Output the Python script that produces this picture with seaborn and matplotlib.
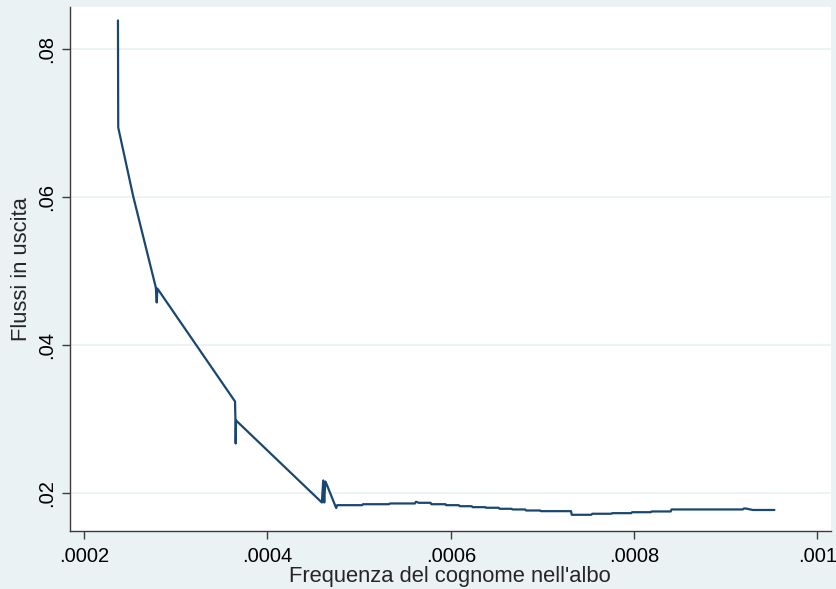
import matplotlib
matplotlib.use("Agg")
import matplotlib.pyplot as plt
import seaborn as sns
import pandas as pd

# Data
freq = [0.0002370, 0.0002373, 0.0002536, 0.0002645, 0.0002783, 0.0002793, 0.0002800,
        0.0003647, 0.0003652, 0.0003654, 0.0003658,
        0.0004594, 0.0004609, 0.0004620, 0.0004631, 0.0004647, 0.0004750, 0.0004761,
        0.0005033, 0.0005043, 0.0005326, 0.0005337, 0.0005609, 0.0005620, 0.0005652,
        0.0005780, 0.0005788, 0.0005943, 0.0005951, 0.0006087, 0.0006098, 0.0006228,
        0.0006239, 0.0006377, 0.0006386, 0.0006522, 0.0006533, 0.0006663, 0.0006674,
        0.0006812, 0.0006821, 0.0006975, 0.0006984, 0.0007312, 0.0007319, 0.0007533,
        0.0007543, 0.0007750, 0.0007761, 0.0007967, 0.0007978, 0.0008182, 0.0008190,
        0.0008399, 0.0008408, 0.0009185, 0.0009196, 0.0009217, 0.0009294, 0.0009530]
flussi = [0.08392, 0.06946, 0.06018, 0.05473, 0.04784, 0.04581, 0.04770,
          0.03243, 0.02960, 0.02676, 0.02987,
          0.01878, 0.02176, 0.01878, 0.02162, 0.02122, 0.01804, 0.01842,
          0.01842, 0.01855, 0.01855, 0.01865, 0.01865, 0.01888, 0.01874,
          0.01874, 0.01855, 0.01855, 0.01842, 0.01842, 0.01828, 0.01828,
          0.01815, 0.01815, 0.01807, 0.01807, 0.01793, 0.01793, 0.01784,
          0.01784, 0.01770, 0.01770, 0.01761, 0.01761, 0.01712, 0.01712,
          0.01726, 0.01726, 0.01734, 0.01734, 0.01747, 0.01747, 0.01757,
          0.01757, 0.01784, 0.01784, 0.01797, 0.01797, 0.01777, 0.01777]

x_ticks = [0.0002, 0.0004, 0.0006, 0.0008, 0.001]
x_tick_labels = [".0002", ".0004", ".0006", ".0008", ".001"]
y_ticks = [0.02, 0.04, 0.06, 0.08]
y_tick_labels = [".02", ".04", ".06", ".08"]

df = pd.DataFrame({"freq": freq, "flussi": flussi})

sns.set_style("white")
plt.rcParams["font.family"] = ["Liberation Sans", "DejaVu Sans"]

bg = "#EAF2F3"
fig = plt.figure(figsize=(8.37, 5.89), dpi=100, facecolor=bg)
ax = fig.add_axes([70 / 837, 1 - 530.7 / 589, (830.7 - 70) / 837, (530.7 - 6.7) / 589])
ax.set_facecolor("white")

sns.lineplot(data=df, x="freq", y="flussi", ax=ax, sort=False, estimator=None,
             color="#1A476F", linewidth=1.6)

ax.set_xlim(0.0001847, 0.0010144)
ax.set_ylim(0.01497, 0.08578)
ax.set_xticks(x_ticks)
ax.set_xticklabels(x_tick_labels)
ax.set_yticks(y_ticks)
ax.set_yticklabels(y_tick_labels, rotation=90, va="center")

ax.grid(axis="y", color=bg, linewidth=1.3)
ax.set_axisbelow(True)
for s in ["top", "right"]:
    ax.spines[s].set_visible(False)
for s in ["left", "bottom"]:
    ax.spines[s].set_color("#3c3c3c")
    ax.spines[s].set_linewidth(1.0)

ax.tick_params(axis="both", direction="out", length=6, width=1.0, color="#3c3c3c",
               labelsize=14.5, labelcolor="black")
ax.tick_params(axis="x", bottom=True, pad=6)
ax.tick_params(axis="y", left=True, pad=4)

ax.set_xlabel("Frequenza del cognome nell'albo", fontsize=15.8, labelpad=0)
ax.set_ylabel("Flussi in uscita", fontsize=15.8, labelpad=4)

fig.savefig("out.png", dpi=100, facecolor=bg)
